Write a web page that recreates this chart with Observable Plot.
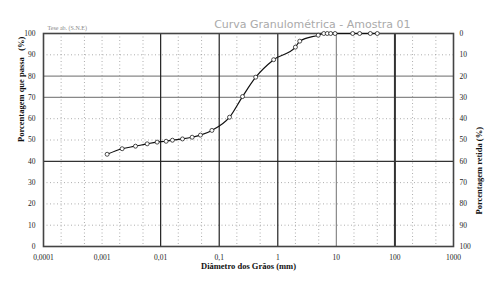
<!DOCTYPE html>
<html>
<head>
<meta charset="utf-8">
<script src="https://cdn.jsdelivr.net/npm/d3@7"></script>
<script src="https://cdn.jsdelivr.net/npm/@observablehq/plot@0.6"></script>
<style>
  html, body { margin: 0; padding: 0; background: #fff; }
  #chart { width: 490px; height: 283px; }
</style>
</head>
<body>
<div id="chart"></div>
<script>
// Grain diameter (mm) and percentage passing (%)
const diameter = [0.00122, 0.0022, 0.00372, 0.00589, 0.00871, 0.0124, 0.0159, 0.0236, 0.0345, 0.0478,
                  0.075, 0.15, 0.25, 0.42, 0.85, 2.0, 2.37, 4.9, 6.1, 7.0, 8.0, 9.5, 19, 25, 38, 50];
const passing  = [43.3, 45.9, 47.1, 48.2, 49.0, 49.4, 49.9, 50.5, 51.3, 52.3,
                  54.5, 60.7, 70.4, 79.5, 87.7, 93.6, 96.4, 99.2, 100, 100, 100, 100, 100, 100, 100, 100];

const xTicks = [0.0001, 0.001, 0.01, 0.1, 1, 10, 100, 1000];
const xTickLabels = ["0,0001", "0,001", "0,01", "0,1", "1", "10", "100", "1000"];
const yTicks = [0, 10, 20, 30, 40, 50, 60, 70, 80, 90, 100];

const darkX = [0.01, 0.1, 1];
const heavyX = [100];
const grayX = [10];
const minorX = [0.0002, 0.0005, 0.001, 0.002, 0.005, 0.02, 0.05, 0.2, 0.5, 2, 5, 20, 50, 200, 500];
const darkY = [40];
const grayY = [70, 80];
const minorY = [10, 20, 30, 50, 60, 90];

const titleText = "Curva Granulométrica - Amostra 01";
const noteText = "Tese ab. (S.N.E)";

const data = diameter.map((d, i) => ({d, p: passing[i]}));

const chart = Plot.plot({
  width: 490,
  height: 283,
  marginLeft: 43,
  marginRight: 37,
  marginTop: 33,
  marginBottom: 37,
  style: {fontFamily: "'Liberation Serif', 'DejaVu Serif', serif", fontSize: "7.5px", color: "#222", background: "#fff"},
  x: {type: "log", domain: [0.0001, 1000]},
  y: {domain: [0, 100]},
  marks: [
    Plot.ruleX(minorX, {stroke: "#999", strokeWidth: 0.8, strokeDasharray: "1,2.5"}),
    Plot.ruleY(minorY, {stroke: "#999", strokeWidth: 0.8, strokeDasharray: "1,2.5"}),
    Plot.ruleY(grayY, {stroke: "#888", strokeWidth: 1.2}),
    Plot.ruleX(grayX, {stroke: "#888", strokeWidth: 1.2}),
    Plot.ruleY(darkY, {stroke: "#333", strokeWidth: 1.2}),
    Plot.ruleX(darkX, {stroke: "#222", strokeWidth: 1.2}),
    Plot.ruleX(heavyX, {stroke: "#333", strokeWidth: 2}),
    Plot.frame({stroke: "#444", strokeWidth: 1.6}),
    Plot.line(data, {x: "d", y: "p", curve: "monotone-x", stroke: "#111", strokeWidth: 1.2}),
    Plot.dot(data, {x: "d", y: "p", r: 2, stroke: "#222", fill: "#fff", strokeWidth: 0.8}),
    Plot.axisX({ticks: xTicks, tickFormat: d => xTickLabels[xTicks.indexOf(d)], tickSize: 0, tickPadding: 8, label: null}),
    Plot.axisY({anchor: "left", ticks: yTicks, tickSize: 0, tickPadding: 8, label: null}),
    Plot.axisY({anchor: "right", ticks: yTicks, tickFormat: d => String(100 - d), tickSize: 0, tickPadding: 6, label: null}),
    Plot.text(["Diâmetro dos Grãos (mm)"], {frameAnchor: "bottom", dy: 22, fontWeight: "bold", fontSize: 8.5, fill: "#111"}),
    Plot.text(["Porcentagem que passa   (%)"], {frameAnchor: "left", dx: -22, dy: 2, rotate: -90, fontWeight: "bold", fontSize: 8.5, fill: "#111"}),
    Plot.text(["Porcentagem retida (%)"], {frameAnchor: "right", dx: 26, dy: -13, rotate: -90, fontWeight: "bold", fontSize: 8.5, fill: "#111"}),
    Plot.text([noteText], {frameAnchor: "top-left", dx: 4, dy: -8, fontSize: 6, fill: "#888", textAnchor: "start"}),
    Plot.text([titleText], {frameAnchor: "top-right", dx: -43, dy: -13, fontSize: 11, fill: "#aaa", textAnchor: "end", fontFamily: "'DejaVu Sans', sans-serif"})
  ]
});
document.getElementById("chart").appendChild(chart);
</script>
</body>
</html>
